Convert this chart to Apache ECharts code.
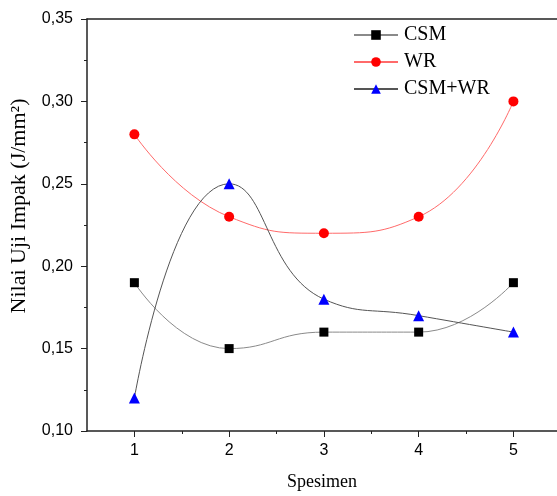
<!DOCTYPE html>
<html>
<head>
<meta charset="utf-8">
<script src="https://cdn.jsdelivr.net/npm/echarts@6/dist/echarts.min.js"></script>
<style>
html,body{margin:0;padding:0;background:#fff;}
#chart{width:557px;height:496px;}
</style>
</head>
<body>
<div id="chart"></div>
<script>
// Specimen numbers on the x axis
const specimens = [1, 2, 3, 4, 5];
// Half-step positions between specimens (minor ticks)
const halfSteps = [1.5, 2.5, 3.5, 4.5];
// Impact test values (J/mm²) per specimen
const csm = [0.19, 0.15, 0.16, 0.16, 0.19];
const wr = [0.28, 0.23, 0.22, 0.23, 0.30];
const csmWr = [0.12, 0.25, 0.18, 0.17, 0.16];

const serif = '"Liberation Serif", "Times New Roman", serif';
const sans = '"Liberation Sans", Arial, sans-serif';
const axisColor = '#222';

const pairs = ys => specimens.map((x, i) => [x, ys[i]]);

const chart = echarts.init(document.getElementById('chart'));
chart.setOption({
  animation: false,
  backgroundColor: '#fff',
  grid: { left: 87, top: 19, right: 0, height: 413, containLabel: false },
  legend: {
    orient: 'vertical',
    left: 353,
    top: 25,
    padding: 0,
    itemWidth: 44,
    itemHeight: 12,
    itemGap: 7,
    textStyle: { fontFamily: serif, fontSize: 20, lineHeight: 20, color: '#000', padding: [0, 0, 0, 1] },
    data: ['CSM', 'WR', 'CSM+WR']
  },
  graphic: [
    {
      // y-axis title
      type: 'text',
      x: 19.5,
      y: 206,
      rotation: Math.PI / 2,
      style: {
        text: 'Nilai Uji Impak (J/mm²)',
        font: '22px ' + serif,
        fill: '#000',
        align: 'center',
        verticalAlign: 'middle'
      }
    }
  ],
  xAxis: [
    {
      type: 'value',
      min: 0.5,
      max: 5.46,
      name: 'Spesimen',
      nameLocation: 'middle',
      nameGap: 42,
      nameTextStyle: { fontFamily: serif, fontSize: 18, color: '#000' },
      axisLine: { show: true, onZero: false, lineStyle: { color: axisColor, width: 1.5 } },
      axisTick: { show: true, inside: false, length: 6, customValues: specimens, lineStyle: { color: axisColor, width: 1 } },
      axisLabel: { fontFamily: sans, fontSize: 16, color: '#000', margin: 12, customValues: specimens },
      splitLine: { show: false }
    },
    {
      // minor ticks between specimens
      type: 'value',
      min: 0.5,
      max: 5.46,
      position: 'bottom',
      axisLine: { show: false, onZero: false },
      axisTick: { show: true, length: 3, customValues: halfSteps, lineStyle: { color: axisColor, width: 1 } },
      axisLabel: { show: false },
      splitLine: { show: false }
    },
    {
      // top frame line
      type: 'value',
      min: 0.5,
      max: 5.46,
      position: 'top',
      axisLine: { show: true, onZero: false, lineStyle: { color: axisColor, width: 1.5 } },
      axisTick: { show: false },
      axisLabel: { show: false },
      splitLine: { show: false }
    }
  ],
  yAxis: {
    type: 'value',
    min: 0.10,
    max: 0.35,
    interval: 0.05,
    axisLine: { show: true, onZero: false, lineStyle: { color: axisColor, width: 1.5 } },
    axisTick: { show: true, inside: false, length: 6, lineStyle: { color: axisColor, width: 1 } },
    minorTick: { show: true, splitNumber: 2, length: 3, lineStyle: { color: axisColor, width: 1 } },
    axisLabel: {
      fontFamily: sans, fontSize: 16, color: '#000', margin: 14,
      formatter: v => v.toFixed(2).replace('.', ',')
    },
    splitLine: { show: false }
  },
  series: [
    {
      name: 'CSM',
      type: 'line',
      data: pairs(csm),
      smooth: 0.5,
      symbol: 'rect',
      symbolSize: 9,
      itemStyle: { color: '#000' },
      lineStyle: { color: '#8a8a8a', width: 1 }
    },
    {
      name: 'WR',
      type: 'line',
      data: pairs(wr),
      smooth: 0.5,
      symbol: 'circle',
      symbolSize: 10,
      itemStyle: { color: '#ff0000' },
      lineStyle: { color: '#ff6a6a', width: 1 }
    },
    {
      name: 'CSM+WR',
      type: 'line',
      data: pairs(csmWr),
      smooth: 0.5,
      symbol: 'triangle',
      symbolSize: 11,
      itemStyle: { color: '#0000ff' },
      lineStyle: { color: '#555', width: 1 }
    }
  ]
});
</script>
</body>
</html>
